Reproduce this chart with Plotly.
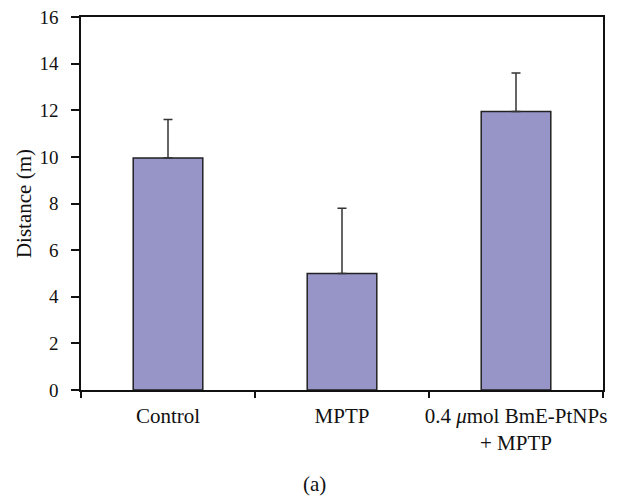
import plotly.graph_objects as go

categories = ["Control", "MPTP", "0.4 <i>μ</i>mol BmE-PtNPs<br>+ MPTP"]
means = [9.95, 5.0, 11.95]
errors = [1.65, 2.8, 1.65]
y_ticks = [0, 2, 4, 6, 8, 10, 12, 14, 16]

FONT = "Liberation Serif"
FS = 21

fig = go.Figure(
    go.Bar(
        x=categories,
        y=means,
        width=0.4,
        marker=dict(color="#9794c8", line=dict(color="#222222", width=1.5)),
        error_y=dict(type="data", array=errors, arrayminus=[0] * len(errors),
                     symmetric=False, color="#333333", thickness=1.5, width=4.5),
    )
)

fig.update_layout(
    width=622, height=493,
    margin=dict(l=73, r=27, t=9, b=111),
    paper_bgcolor="white", plot_bgcolor="white",
    font=dict(family=FONT, size=FS, color="#111111"),
    showlegend=False,
    annotations=[
        dict(text="(a)", x=0.448, xref="paper", y=-0.252, yref="paper",
             showarrow=False, xanchor="center", yanchor="middle",
             font=dict(family=FONT, size=FS, color="#111111")),
        dict(text="Distance (m)", x=-0.11, xref="paper", y=0.5, yref="paper",
             showarrow=False, xanchor="center", yanchor="middle", textangle=-90,
             font=dict(family=FONT, size=21, color="#111111")),
    ],
)

fig.update_xaxes(
    type="category", range=[-0.5, 2.5], tickson="boundaries",
    ticks="outside", ticklen=6, tickwidth=1.5, tickcolor="#111111",
    showline=True, linecolor="#111111", linewidth=1.5, mirror=True,
    showgrid=False, ticklabelstandoff=6, tickangle=0, automargin=False,
    ticklabeloverflow="allow",
)
fig.update_yaxes(
    range=[0, 16], tickvals=y_ticks,
    ticks="outside", ticklen=8, tickwidth=1.5, tickcolor="#111111",
    showline=True, linecolor="#111111", linewidth=1.5, mirror=True,
    showgrid=False, zeroline=False, ticklabelstandoff=9, automargin=False,
    ticklabeloverflow="allow", tickfont=dict(size=19),
)

fig.write_html("out.html")
